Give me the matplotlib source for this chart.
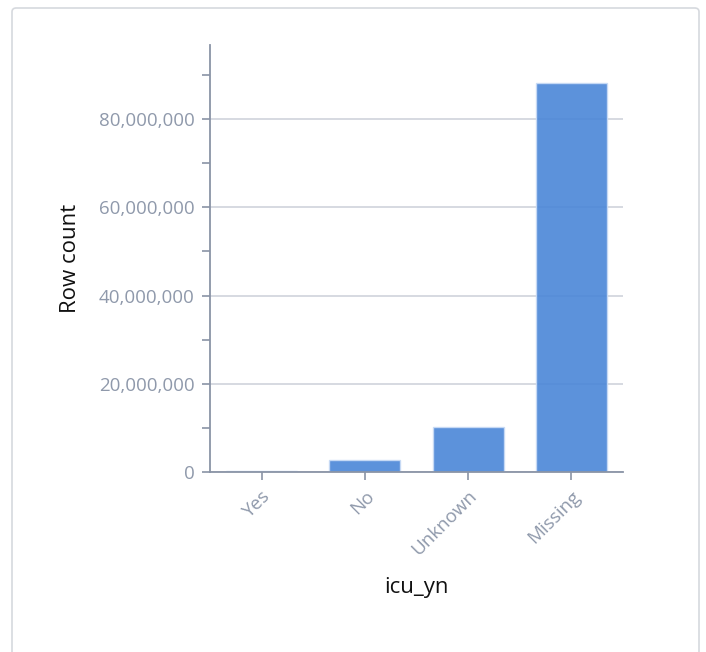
import matplotlib.pyplot as plt
from matplotlib.patches import FancyBboxPatch
from matplotlib.ticker import FuncFormatter, MultipleLocator

categories = ['Yes', 'No', 'Unknown', 'Missing']
row_counts = [120000, 2700000, 10200000, 88200000]

axis_color = '#8a94a6'
text_color = '#8f99ab'
grid_color = '#cfd3dc'
bar_color = '#4a86d8'

plt.rcParams['font.family'] = ['Open Sans', 'DejaVu Sans']

fig = plt.figure(figsize=(7.06, 6.52), dpi=100)

# card outline
card = FancyBboxPatch((12 / 706, -0.05), 687 / 706, 1 - 8 / 652 + 0.05,
                      boxstyle='round,pad=0,rounding_size=0.006',
                      transform=fig.transFigure, facecolor='white',
                      edgecolor='#d6d9de', linewidth=1.2, zorder=-5)
fig.patches.append(card)

ax = fig.add_axes([210 / 706, 1 - 472 / 652, 413 / 706, 427 / 652])
ax.set_zorder(2)
ax.patch.set_alpha(0)

ax.bar(range(len(categories)), row_counts, width=0.69, color=bar_color,
       alpha=0.9, edgecolor='#c9dbf5', linewidth=1, zorder=2)

ax.set_xlim(-0.5, 3.5)
ax.set_ylim(0, 96.8e6)
ax.yaxis.set_major_locator(MultipleLocator(20e6))
ax.yaxis.set_minor_locator(MultipleLocator(10e6))
ax.yaxis.set_major_formatter(FuncFormatter(lambda v, p: f'{int(v):,}'))
ax.set_axisbelow(True)
ax.grid(axis='y', which='major', color=grid_color, linewidth=1.2)

ax.set_xticks(range(len(categories)))
ax.set_xticklabels(categories, rotation=45, ha='right', rotation_mode='anchor')

for s in ['top', 'right']:
    ax.spines[s].set_visible(False)
for s in ['left', 'bottom']:
    ax.spines[s].set_color(axis_color)
    ax.spines[s].set_linewidth(1.3)
    ax.spines[s].set_zorder(4)

ax.tick_params(axis='both', which='both', colors=axis_color, labelcolor=text_color,
               labelsize=13.5, length=6, width=1.2, pad=5)

ax.set_ylabel('Row count', fontsize=16, color='#111111', labelpad=13)
ax.set_xlabel('icu_yn', fontsize=16, color='#111111', labelpad=13)

fig.savefig('out.png', dpi=100)
